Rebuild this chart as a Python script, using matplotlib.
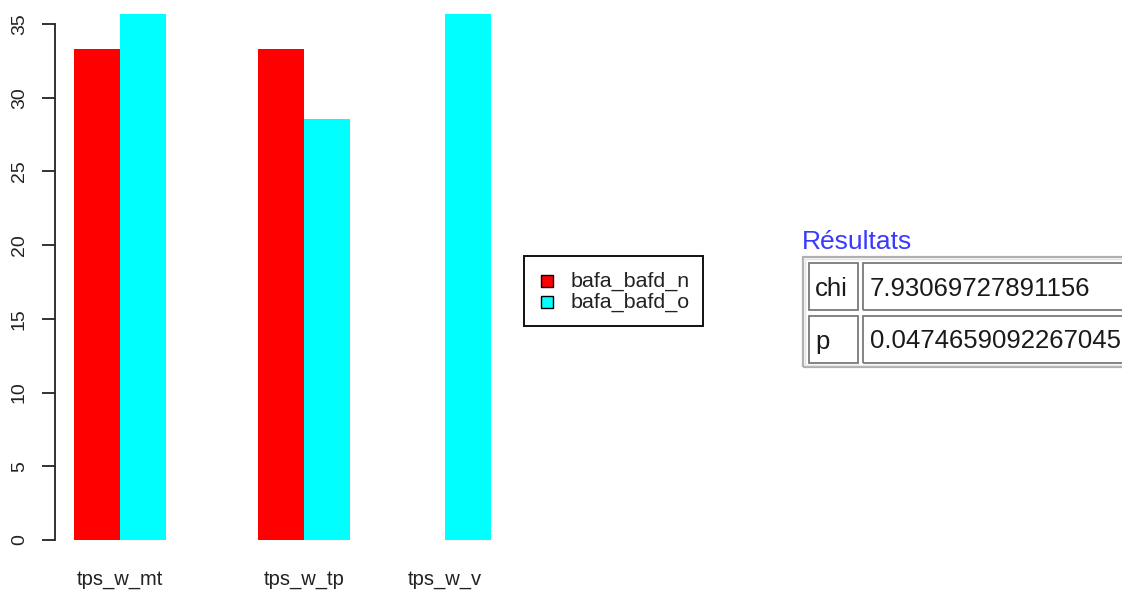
import matplotlib
matplotlib.use("Agg")
import matplotlib.pyplot as plt
from matplotlib.patches import Rectangle
import numpy as np

plt.rcParams['font.family'] = ['Liberation Sans', 'DejaVu Sans']

categories = ["tps_w_mt", "tps_w_tp", "tps_w_v"]
series_names = ["bafa_bafd_n", "bafa_bafd_o"]
values_n = [33.33, 33.33, 0.0]
values_o = [35.71, 28.57, 35.71]
colors = ["#FF0000", "#00FFFF"]
yticks = [0, 5, 10, 15, 20, 25, 30, 35]
result_labels = ["chi", "p"]
result_values = ["7.93069727891156", "0.0474659092267045"]
result_title = "Résultats"

W, H = 1122, 591
fig = plt.figure(figsize=(W / 100, H / 100), dpi=100)

def fx(px):
    return px / W

def fy(py):
    return 1 - py / H

# plot region in pixels
ax_l, ax_r, ax_t, ax_b = 55, 500, 13, 545
ax = fig.add_axes([fx(ax_l), fy(ax_b), fx(ax_r - ax_l), (ax_b - ax_t) / H])
unit = (540 - 24) / 35.0
ax.set_ylim(-(ax_b - 540) / unit, 35 + (24 - ax_t) / unit)
bw = 46.0
ax.set_xlim((ax_l - 74) / bw, (ax_r - 74) / bw)

group_starts = np.array([0.0, 4.0, 7.065])
x_n = group_starts
x_o = group_starts + 1
ax.bar(x_n, values_n, width=1.0, align='edge', color=colors[0], linewidth=0)
ax.bar(x_o, values_o, width=1.0, align='edge', color=colors[1], linewidth=0)

for s in ['top', 'right', 'bottom']:
    ax.spines[s].set_visible(False)
ax.spines['left'].set_bounds(0, 35)
ax.spines['left'].set_linewidth(1.3)
ax.spines['left'].set_color('#222222')
ax.set_yticks(yticks)
ax.set_yticklabels([str(t) for t in yticks], rotation=90, va='center', fontsize=14, color='#222222')
ax.tick_params(axis='y', length=9.5, width=1.3, pad=10, color='#222222')
ax.set_xticks(x_o)
ax.set_xticklabels(categories, fontsize=14.5, color='#222222')
ax.tick_params(axis='x', length=0, pad=18)
ax.set_facecolor('none')

# legend (framed box with a swatch per series)
fig.add_artist(Rectangle((fx(524), fy(326)), fx(703 - 524), (326 - 256) / H,
                         transform=fig.transFigure, fill=False, edgecolor='#111111', linewidth=1.4))
row_centers = [281, 302]
for name, c, yc in zip(series_names, colors, row_centers):
    fig.add_artist(Rectangle((fx(541), fy(yc + 6)), fx(12), 12 / H,
                             transform=fig.transFigure, facecolor=c, edgecolor='black', linewidth=1.0))
    fig.text(fx(571), fy(yc), name, fontsize=15.4, va='center', ha='left', color='#222222')

# results table
fig.text(fx(802), fy(242), result_title, color='#3a3aff', fontsize=19, va='center', ha='left')

def rect(x0, y0, x1, y1, ec, lw=1.0):
    fig.add_artist(Rectangle((fx(x0), fy(y1)), fx(x1 - x0), (y1 - y0) / H,
                             transform=fig.transFigure, fill=False, edgecolor=ec, linewidth=lw))

rect(803, 257, 1135, 367, '#b0b0b0', 1.6)
rect(805, 259, 1133, 365, '#e4e4e4', 1.0)
row_tops = [263, 316]
row_h = 47
for i, (lab, val) in enumerate(zip(result_labels, result_values)):
    t = row_tops[i]
    rect(809, t, 858, t + row_h, '#7a7a7a', 1.3)
    rect(863, t, 1135, t + row_h, '#7a7a7a', 1.3)
    fig.text(fx(815), fy(t + row_h / 2 + 2), lab, fontsize=18.5, va='center', ha='left', color='#1a1a1a')
    fig.text(fx(870), fy(t + row_h / 2 + 2), val, fontsize=18.5, va='center', ha='left', color='#1a1a1a')

fig.savefig("out.png", dpi=100)
